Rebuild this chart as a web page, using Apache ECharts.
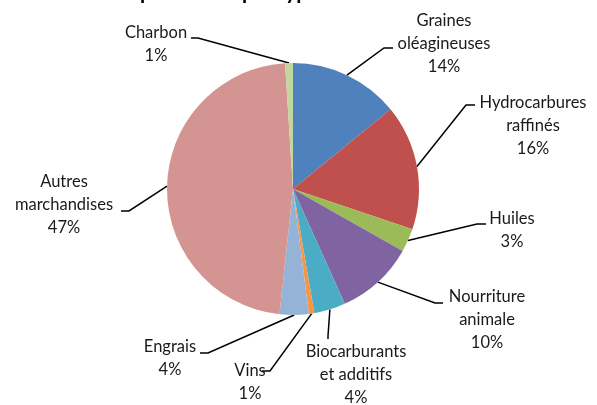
<!DOCTYPE html>
<html>
<head>
<meta charset="utf-8">
<script src="https://cdn.jsdelivr.net/npm/echarts@6/dist/echarts.min.js"></script>
<style>
  html, body { margin: 0; padding: 0; background: #fff; }
  #chart { width: 597px; height: 405px; }
</style>
</head>
<body>
<div id="chart"></div>
<script>
// parts du total, dans l'ordre des aiguilles d'une montre depuis midi
const categories = ['Graines\noléagineuses', 'Hydrocarbures\nraffinés', 'Huiles', 'Nourriture\nanimale',
  'Biocarburants\net additifs', 'Vins', 'Engrais', 'Autres\nmarchandises', 'Charbon'];
const values = [14, 16, 3, 10, 4, 0.7, 3.7, 47, 1];
const percentLabels = ['14%', '16%', '3%', '10%', '4%', '1%', '4%', '47%', '1%'];
const colors = ['#4F81BD', '#C0504D', '#9BBB59', '#8064A2', '#4BACC6', '#F79646', '#95B3D7', '#D49592', '#C3D69B'];

// position des étiquettes (centre) et coude de la ligne de rappel
const labelPos = [[444, 44], [533, 126], [512, 230], [487, 320], [356, 375], [250, 382], [170, 358], [64, 205], [156, 44]];
const elbows = [[[384, 48], [393, 48]], [[466, 105], [475, 105]], [[477, 224], [486, 224]], [[435, 303], [443, 303]],
  [[328, 336], [328, 339]], [[270, 371], [262, 371]], [[208, 353], [200, 353]], [[129, 211], [121, 211]], [[198, 38], [191, 38]]];

const chart = echarts.init(document.getElementById('chart'));

const option = {
    title: {
        text: 'Exportations par type de marchandises',
        left: 'center',
        top: -23,
        textStyle: { fontFamily: 'Lato', fontWeight: 'bold', fontSize: 21, color: '#000' }
    },
    series: [
        {
            type: 'pie',
            center: [293, 189],
            radius: 126,
            startAngle: 90,
            clockwise: true,
            animation: false,
            data: categories.map((c, i) => ({ name: c, value: values[i], itemStyle: { color: colors[i] } })),
            label: {
                show: true,
                formatter: p => p.name + '\n' + percentLabels[p.dataIndex],
                fontFamily: 'Lato',
                fontSize: 16.5,
                lineHeight: 23,
                color: '#1a1a1a',
                align: 'center'
            },
            labelLine: {
                show: true,
                lineStyle: { color: '#000', width: 1.5 }
            },
            labelLayout: function (params) {
                const i = params.dataIndex;
                const anchor = params.labelLinePoints ? params.labelLinePoints[0] : elbows[i][0];
                return {
                    x: labelPos[i][0],
                    y: labelPos[i][1],
                    align: 'center',
                    verticalAlign: 'middle',
                    labelLinePoints: [anchor, elbows[i][0], elbows[i][1]]
                };
            }
        }
    ]
};

chart.setOption(option);
</script>
</body>
</html>
